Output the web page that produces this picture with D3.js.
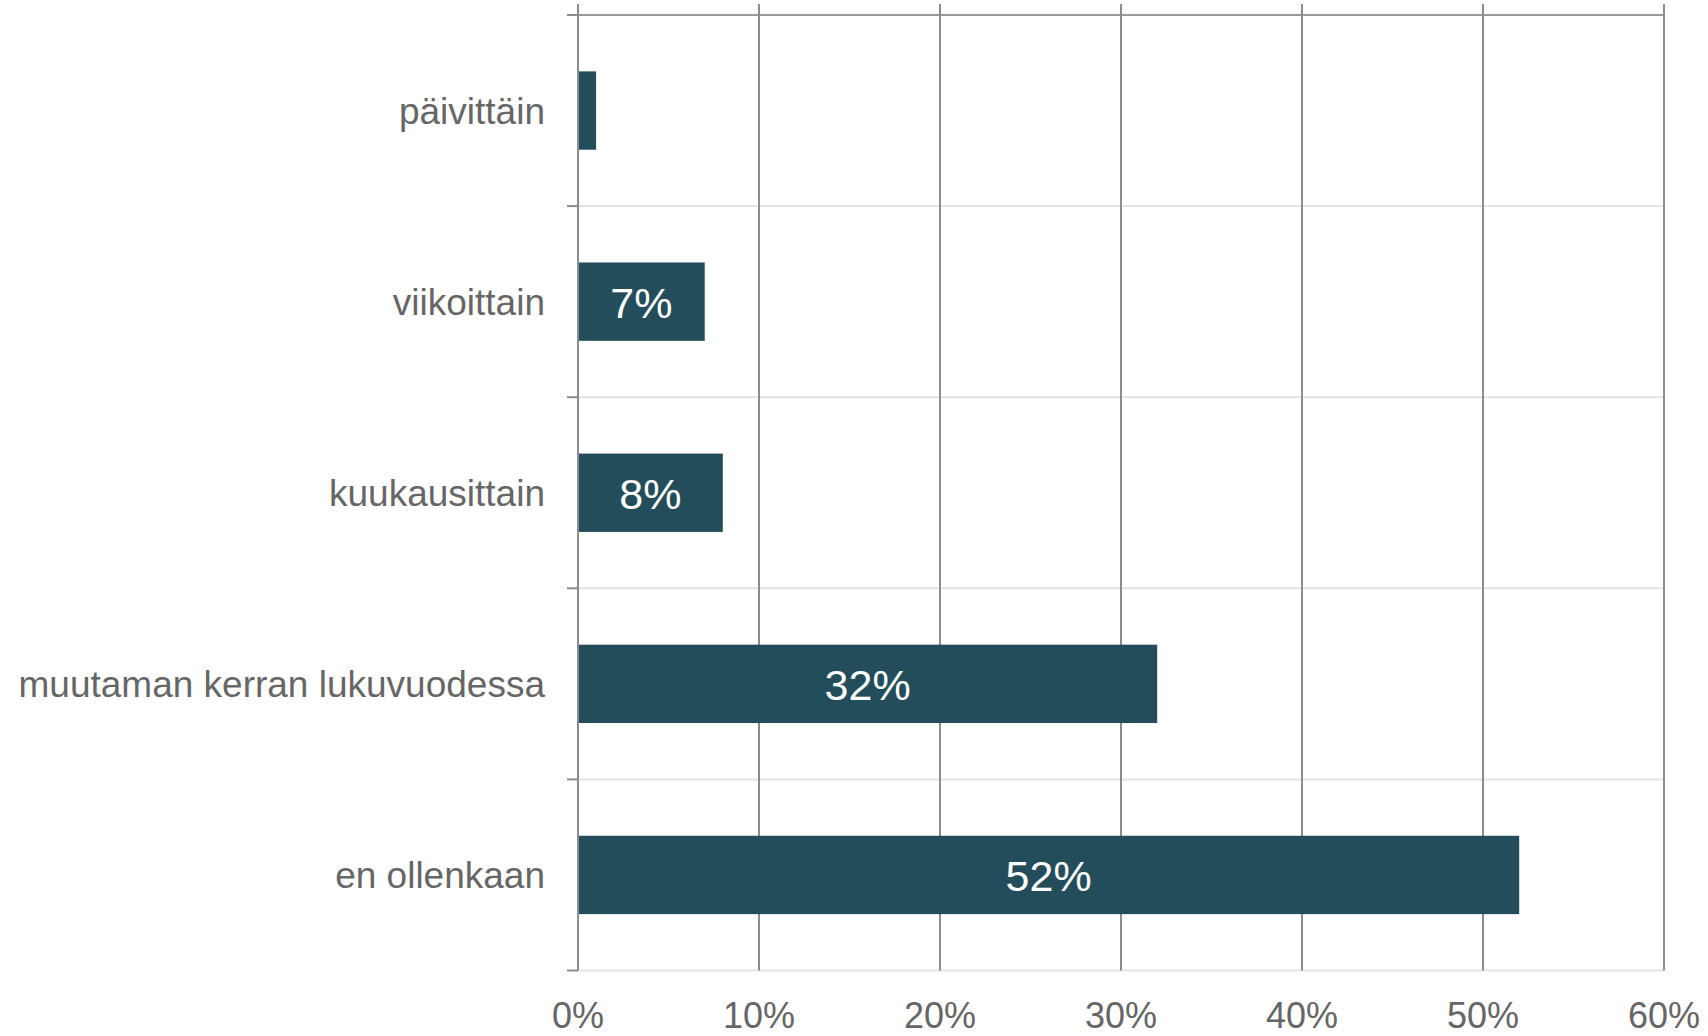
<!DOCTYPE html>
<html>
<head>
<meta charset="utf-8">
<script src="https://cdn.jsdelivr.net/npm/d3@7"></script>
<style>
  body { margin: 0; background: #fff; }
  text { font-family: "Liberation Sans", Arial, sans-serif; }
</style>
</head>
<body>
<div id="my_dataviz"></div>
<script>
// data
var categories = ["päivittäin", "viikoittain", "kuukausittain", "muutaman kerran lukuvuodessa", "en ollenkaan"];
var values = [1, 7, 8, 32, 52];
var xTicks = [0, 10, 20, 30, 40, 50, 60];

var margin = { top: 15, right: 44, bottom: 65.5, left: 578 },
  width = 1708 - margin.left - margin.right,
  height = 1036 - margin.top - margin.bottom;

var svg = d3.select("#my_dataviz")
  .append("svg")
  .attr("width", 1708)
  .attr("height", 1036)
  .append("g")
  .attr("transform", "translate(" + margin.left + "," + margin.top + ")");

var x = d3.scaleLinear()
  .domain([0, 60])
  .range([0, width]);

var y = d3.scaleBand()
  .domain(categories)
  .range([0, height])
  .paddingInner(0.59)
  .paddingOuter(0.295);

// horizontal light lines at the category boundaries
var bounds = d3.range(categories.length + 1).map(function (i) { return i * y.step(); });
svg.append("g")
  .selectAll("line")
  .data(bounds)
  .enter().append("line")
  .attr("x1", 0)
  .attr("x2", width)
  .attr("y1", function (d) { return d; })
  .attr("y2", function (d) { return d; })
  .attr("stroke", function (d, i) { return i == 0 ? "#999" : "#e3e3e3"; })
  .attr("stroke-width", 2);

// vertical grid lines (poke out above the top line)
svg.append("g")
  .selectAll("line")
  .data(xTicks)
  .enter().append("line")
  .attr("x1", function (d) { return x(d); })
  .attr("x2", function (d) { return x(d); })
  .attr("y1", -11)
  .attr("y2", height)
  .attr("stroke", "#8c8c8c")
  .attr("stroke-width", 2);

// left ticks at the boundaries
svg.append("g")
  .selectAll("line")
  .data(bounds)
  .enter().append("line")
  .attr("x1", -11)
  .attr("x2", 0)
  .attr("y1", function (d) { return d; })
  .attr("y2", function (d) { return d; })
  .attr("stroke", "#8c8c8c")
  .attr("stroke-width", 2);

// bars
svg.append("g")
  .selectAll("rect")
  .data(values)
  .enter().append("rect")
  .attr("x", x(0) + 1)
  .attr("y", function (d, i) { return y(categories[i]); })
  .attr("width", function (d) { return x(d) - x(0) - 1; })
  .attr("height", y.bandwidth())
  .attr("fill", "#234d5a");

// value labels inside bars (too small for the 1% bar)
svg.append("g")
  .selectAll("text")
  .data(values)
  .enter().append("text")
  .filter(function (d) { return d >= 2; })
  .attr("x", function (d) { return (x(0) + x(d)) / 2; })
  .attr("y", function (d) { return y(categories[values.indexOf(d)]) + y.bandwidth() / 2 + 16; })
  .attr("text-anchor", "middle")
  .style("font-size", "43px")
  .style("fill", "#fff")
  .text(function (d) { return d + "%"; });

// category labels
svg.append("g")
  .selectAll("text")
  .data(categories)
  .enter().append("text")
  .attr("x", -33)
  .attr("y", function (d) { return y(d) + y.bandwidth() / 2 + 13; })
  .attr("text-anchor", "end")
  .style("font-size", "37px")
  .style("fill", "#666")
  .text(function (d) { return d; });

// x tick labels
svg.append("g")
  .selectAll("text")
  .data(xTicks)
  .enter().append("text")
  .attr("x", function (d) { return x(d); })
  .attr("y", height + 57)
  .attr("text-anchor", "middle")
  .style("font-size", "36px")
  .style("fill", "#666")
  .text(function (d) { return d + "%"; });
</script>
</body>
</html>
